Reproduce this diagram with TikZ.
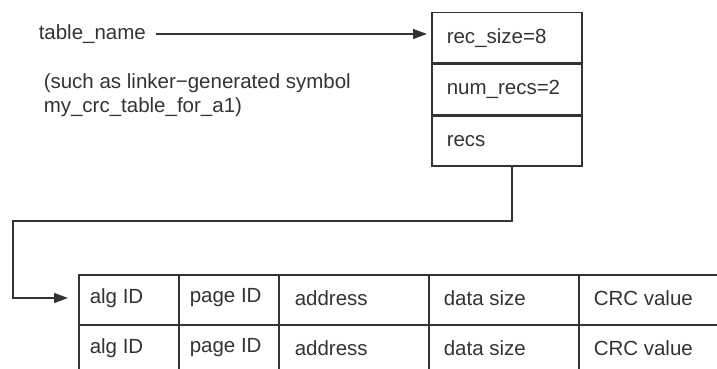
\documentclass[tikz,border=0pt]{standalone}
\usepackage{fontspec}
\setmainfont{Liberation Sans}
\usepackage{tikz}
\usetikzlibrary{arrows.meta,positioning}
\definecolor{ink}{HTML}{333333}
\tikzset{font={\fontsize{20.5pt}{24pt}\selectfont}}

\begin{document}
\begin{tikzpicture}[>={Triangle[length=14pt,width=10pt]},node distance=0pt,
                    line width=1.5pt,draw=ink,text=ink,
                    field/.style={rectangle,draw=ink,minimum width=150pt,minimum height=50pt,
                                  text width=120pt,inner xsep=15pt,align=left},
                    label node/.style={inner sep=0pt,anchor=west},
                    link/.style={->,draw=ink}]

  \useasboundingbox (0,0) rectangle (717pt,-369pt);

  % pointer and note
  \node[label node] (name) at (38pt,-34pt) {table\_name};
  \node[inner sep=0pt,anchor=base west,align=left] (note) at (43pt,-112pt)
    {(such as linker−generated symbol\\my\_crc\_table\_for\_a1)};

  % header record
  \node[field,anchor=north west] (size) at (431pt,-12pt) {rec\_size=8};
  \node[field] (num)  [below=of size] {num\_recs=2};
  \node[field] (recs) [below=of num]  {recs};

  % records table
  \draw[ink] (79pt,-369pt) -- (79pt,-275pt) -- (717pt,-275pt)
             (79pt,-325pt) -- (717pt,-325pt)
             (179pt,-275pt) -- (179pt,-369pt)
             (279pt,-275pt) -- (279pt,-369pt)
             (429pt,-275pt) -- (429pt,-369pt)
             (579pt,-275pt) -- (579pt,-369pt);

  \node[label node] (alg1)   at (89pt,-298pt)  {alg ID};
  \node[label node] (page1)  at (189pt,-298pt) {page ID};
  \node[label node] (addr1)  at (294pt,-298pt) {address};
  \node[label node] (dsize1) at (443pt,-298pt) {data size};
  \node[label node] (crc1)   at (593pt,-298pt) {CRC value};

  \node[label node] (alg2)   at (89pt,-348pt)  {alg ID};
  \node[label node] (page2)  at (189pt,-348pt) {page ID};
  \node[label node] (addr2)  at (294pt,-348pt) {address};
  \node[label node] (dsize2) at (443pt,-348pt) {data size};
  \node[label node] (crc2)   at (593pt,-348pt) {CRC value};

  % connectors
  \draw[link,shorten <=9pt,shorten >=4pt] (name.east) -- (name.east -| size.west);

  \coordinate (drop)   at (512pt,-221pt);
  \coordinate (corner) at (13pt,-221pt);
  \draw[link,shorten >=21pt] (recs.south -| drop) -- (drop) -- (corner) |- (alg1.west);
\end{tikzpicture}
\end{document}
